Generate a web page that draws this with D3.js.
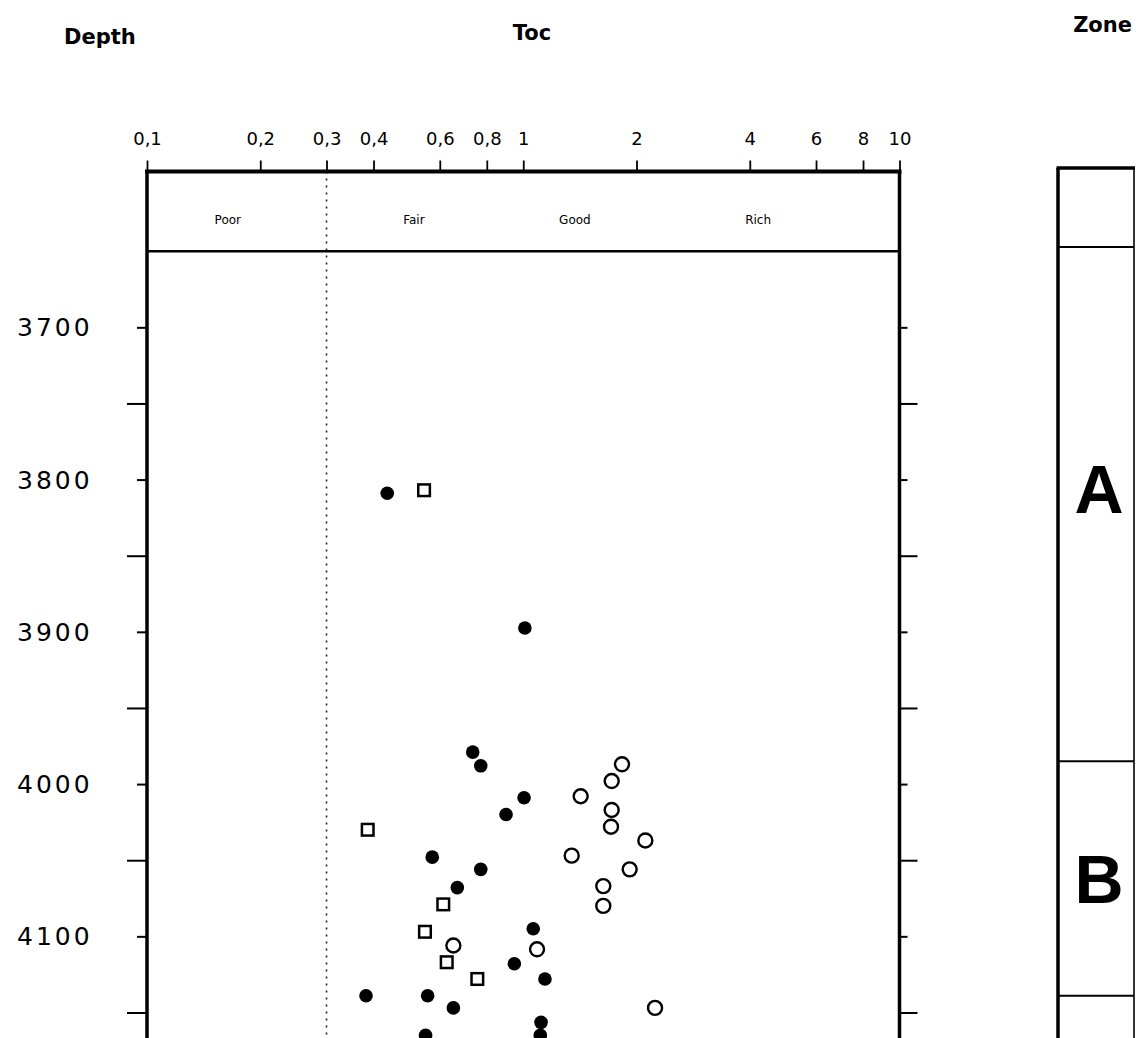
<!DOCTYPE html>
<html>
<head>
<meta charset="utf-8">
<script src="https://cdn.jsdelivr.net/npm/d3@7/dist/d3.min.js"></script>
<style>
body{margin:0;background:#fff}
svg{display:block}
</style>
</head>
<body>
<svg id="chart" width="1136" height="1038"></svg>
<script>
// toc 축 눈금
var tocTicks = [0.1,0.2,0.3,0.4,0.6,0.8,1,2,4,6,8,10];
var tocTickLabels = ["0,1","0,2","0,3","0,4","0,6","0,8","1","2","4","6","8","10"];

// 깊이 눈금 (라벨 있는 것 / 중간 눈금)
var depthMajor = [3700,3800,3900,4000,4100,4200];
var depthMinor = [3750,3850,3950,4050,4150];
var depthLabels = [3700,3800,3900,4000,4100];

// 등급 구간
var gradeNames = ["Poor","Fair","Good","Rich"];
var gradeToc = [0.164,0.512,1.372,4.21];
var poorLimit = 0.3;

// 시료 : 검은 원
var solidDepth = [3809,3897.5,3979,3988,4009,4020,4048,4056,4068,4095,4118,4128,4139,4139,4147,4156.5,4165,4165];
var solidToc   = [0.435,1.01,0.734,0.771,1.005,0.900,0.573,0.771,0.668,1.063,0.947,1.142,0.382,0.557,0.652,1.115,0.550,1.110];

// 시료 : 빈 원
var openDepth = [3987,3998,4008,4017,4028,4037,4047,4056,4067,4080,4106,4108.5,4147];
var openToc   = [1.830,1.718,1.421,1.718,1.711,2.111,1.345,1.918,1.632,1.632,0.652,1.088,2.240];

// 시료 : 빈 사각형
var squareDepth = [3807,4030,4079,4097,4117,4128];
var squareToc   = [0.545,0.386,0.613,0.548,0.626,0.755];

// zone
var zoneNames = ["A","B"];
var zoneLabelDepth = [3806,4062];
var zoneBounds = [3985,4139];

var svg = d3.select("#chart");

var x = d3.scaleLog().domain([0.1,10]).range([147,899.5]);
var y = d3.scaleLinear().domain([3650,4200]).range([251.2,1088.6]);

var topY = 171.5;
var headY = y(3650);
var bottomY = 1100;
var font = "'DejaVu Sans', sans-serif";

// 제목
svg.append("text").attr("x",64).attr("y",44).text("Depth")
   .attr("font-family",font).attr("font-weight","bold").attr("font-size",21);
svg.append("text").attr("x",532).attr("y",40).attr("text-anchor","middle").text("Toc")
   .attr("font-family",font).attr("font-weight","bold").attr("font-size",21);
svg.append("text").attr("x",1132).attr("y",32).attr("text-anchor","end").text("Zone")
   .attr("font-family",font).attr("font-weight","bold").attr("font-size",21);

// 위쪽 toc 축
var topAxis = d3.axisTop(x)
    .tickValues(tocTicks)
    .tickFormat(function(d,i){ return tocTickLabels[i]; })
    .tickSize(11)
    .tickPadding(16);
var gTop = svg.append("g").attr("transform","translate(0,"+topY+")").call(topAxis);
gTop.select(".domain").remove();
gTop.selectAll("line").attr("stroke","#000").attr("stroke-width",1.8);
gTop.selectAll("text").attr("font-family",font).attr("font-size",18).attr("fill","#000");

// 왼쪽/오른쪽 깊이 눈금
var leftMajor = d3.axisLeft(y).tickValues(depthMajor).tickSize(10).tickFormat("");
var leftMinor = d3.axisLeft(y).tickValues(depthMinor).tickSize(20).tickFormat("");
var rightMajor = d3.axisRight(y).tickValues(depthMajor).tickSize(8).tickFormat("");
var rightMinor = d3.axisRight(y).tickValues(depthMinor).tickSize(18).tickFormat("");
[[leftMajor,147],[leftMinor,147],[rightMajor,899.5],[rightMinor,899.5]].forEach(function(a){
    var g = svg.append("g").attr("transform","translate("+a[1]+",0)").call(a[0]);
    g.select(".domain").remove();
    g.selectAll("line").attr("stroke","#000").attr("stroke-width",2);
});

// 깊이 라벨
svg.append("g").selectAll("text").data(depthLabels).enter().append("text")
   .attr("x",17).attr("y",function(d){ return y(d); })
   .attr("dy","0.36em")
   .attr("font-family",font).attr("font-size",25).attr("letter-spacing",3)
   .text(function(d){ return d; });

// 0.3 경계 점선
svg.append("line")
   .attr("x1",x(poorLimit)).attr("x2",x(poorLimit))
   .attr("y1",topY).attr("y2",bottomY)
   .attr("stroke","#222").attr("stroke-width",1.6).attr("stroke-dasharray","2,5");

// 프레임
var frame = svg.append("g").attr("stroke","#000").attr("fill","none");
frame.append("line").attr("x1",145).attr("x2",901.5).attr("y1",topY).attr("y2",topY).attr("stroke-width",4);
frame.append("line").attr("x1",147).attr("x2",899.5).attr("y1",headY).attr("y2",headY).attr("stroke-width",2.5);
frame.append("line").attr("x1",147).attr("x2",147).attr("y1",topY).attr("y2",bottomY).attr("stroke-width",3.5);
frame.append("line").attr("x1",899.5).attr("x2",899.5).attr("y1",topY).attr("y2",bottomY).attr("stroke-width",3.5);

// 등급 라벨
svg.append("g").selectAll("text").data(gradeNames).enter().append("text")
   .attr("x",function(d,i){ return x(gradeToc[i]); })
   .attr("y",224)
   .attr("text-anchor","middle")
   .attr("font-family",font).attr("font-size",12)
   .text(function(d){ return d; });

// 점 찍기
svg.append("g").selectAll("circle").data(solidToc).enter().append("circle")
   .attr("cx",function(d){ return x(d); })
   .attr("cy",function(d,i){ return y(solidDepth[i]); })
   .attr("r",6.8).attr("fill","#000");

svg.append("g").selectAll("circle").data(openToc).enter().append("circle")
   .attr("cx",function(d){ return x(d); })
   .attr("cy",function(d,i){ return y(openDepth[i]); })
   .attr("r",7).attr("fill","#fff").attr("stroke","#000").attr("stroke-width",2.4);

svg.append("g").selectAll("rect").data(squareToc).enter().append("rect")
   .attr("x",function(d){ return x(d)-5.8; })
   .attr("y",function(d,i){ return y(squareDepth[i])-5.8; })
   .attr("width",11.6).attr("height",11.6)
   .attr("fill","#fff").attr("stroke","#000").attr("stroke-width",2.5);

// zone 컬럼
var zl = 1058, zr = 1134;
var zone = svg.append("g").attr("stroke","#000").attr("fill","none");
zone.append("line").attr("x1",zl-1.5).attr("x2",zr+1).attr("y1",168).attr("y2",168).attr("stroke-width",3.5);
zone.append("line").attr("x1",zl).attr("x2",zl).attr("y1",168).attr("y2",bottomY).attr("stroke-width",3.5);
zone.append("line").attr("x1",zr).attr("x2",zr).attr("y1",168).attr("y2",bottomY).attr("stroke-width",1.6);
zone.append("line").attr("x1",zl).attr("x2",zr).attr("y1",247).attr("y2",247).attr("stroke-width",2);
zone.selectAll(".b").data(zoneBounds).enter().append("line")
   .attr("x1",zl).attr("x2",zr)
   .attr("y1",function(d){ return y(d); }).attr("y2",function(d){ return y(d); })
   .attr("stroke-width",2);

svg.append("g").selectAll("text").data(zoneNames).enter().append("text")
   .attr("x",(zl+zr)/2+3)
   .attr("y",function(d,i){ return y(zoneLabelDepth[i]); })
   .attr("dy","0.36em")
   .attr("text-anchor","middle")
   .attr("font-family","'Liberation Sans', Arial, sans-serif").attr("font-weight","bold").attr("font-size",68)
   .text(function(d){ return d; });
</script>
</body>
</html>
